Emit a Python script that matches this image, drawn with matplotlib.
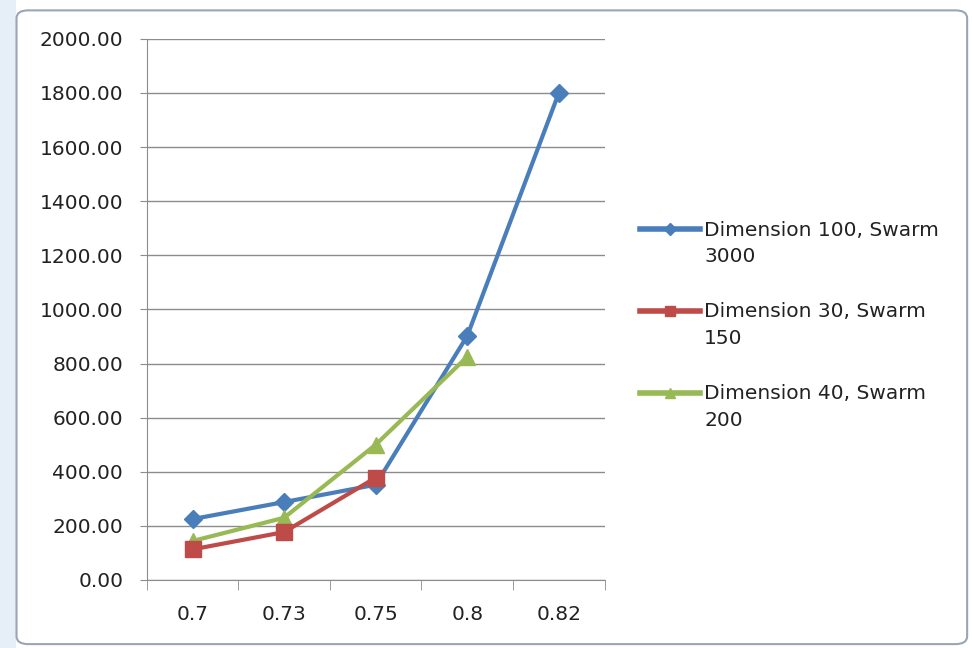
import matplotlib.pyplot as plt
import numpy as np
from matplotlib.patches import FancyBboxPatch, Rectangle
from matplotlib.ticker import FixedLocator, FuncFormatter
from matplotlib.legend_handler import HandlerLine2D

# convergence values per alpha setting
categories = ["0.7", "0.73", "0.75", "0.8", "0.82"]
dim100 = [225, 288, 352, 902, 1800]
dim30 = [113, 177, 378]
dim40 = [144, 230, 500, 825]
labels = ["Dimension 100, Swarm\n3000", "Dimension 30, Swarm\n150", "Dimension 40, Swarm\n200"]

plt.rcParams["font.family"] = ["DejaVu Sans"]
FS = 14.5


class TopLineHandler(HandlerLine2D):
    # put the legend key next to the first line of a wrapped label
    def create_artists(self, legend, orig_handle, xdescent, ydescent,
                       width, height, fontsize, trans):
        shift = 1.45 * fontsize
        return super().create_artists(legend, orig_handle, xdescent,
                                      ydescent - shift, width, height,
                                      fontsize, trans)


fig = plt.figure(figsize=(9.72, 6.48), dpi=100)
fig.patch.set_facecolor("white")

# excel window strip on the left and chart frame
fig.add_artist(Rectangle((0, 0), 0.016, 1, transform=fig.transFigure,
                         facecolor="#e6eef8", edgecolor="none", zorder=-3))
fig.add_artist(FancyBboxPatch((0.017, 0.006), 0.978, 0.978,
                              boxstyle="round,pad=0,rounding_size=0.012",
                              transform=fig.transFigure, facecolor="white",
                              edgecolor="#9aa6b4", linewidth=1.5, zorder=-2))

ax = fig.add_axes([0.151, 0.105, 0.471, 0.835])
ax.set_facecolor("none")

x = np.arange(len(categories))
ax.plot(x[:len(dim100)], dim100, color="#4a7ebb", lw=3, marker="D", ms=9,
        label=labels[0], zorder=3)
ax.plot(x[:len(dim30)], dim30, color="#be4b48", lw=3, marker="s", ms=11,
        label=labels[1], zorder=4)
ax.plot(x[:len(dim40)], dim40, color="#98b954", lw=3, marker="^", ms=11,
        label=labels[2], zorder=3)

ax.set_xlim(-0.5, len(categories) - 0.5)
ax.set_ylim(0, 2000)
ax.set_yticks(np.arange(0, 2001, 200))
ax.yaxis.set_major_formatter(FuncFormatter(lambda v, p: f"{v:.2f}"))
ax.yaxis.grid(True, color="#8c8c8c", lw=1)
ax.set_axisbelow(True)

ax.set_xticks(x)
ax.set_xticklabels(categories)
ax.xaxis.set_minor_locator(FixedLocator(np.arange(-0.5, len(categories), 1)))
ax.tick_params(axis="x", which="major", length=0, pad=18, labelsize=FS, colors="#222222")
ax.tick_params(axis="x", which="minor", length=7, color="#8c8c8c", direction="out")
ax.tick_params(axis="y", length=5, color="#8c8c8c", pad=12, labelsize=FS, labelcolor="#222222")

for side in ["top", "right"]:
    ax.spines[side].set_visible(False)
for side in ["left", "bottom"]:
    ax.spines[side].set_color("#8c8c8c")

leg = ax.legend(loc="center left", bbox_to_anchor=(1.037, 0.471), frameon=False,
                fontsize=FS, handlelength=3.0, labelspacing=1.8, handletextpad=0.2,
                markerscale=0.7, handler_map={plt.Line2D: TopLineHandler()})
for t in leg.get_texts():
    t.set_linespacing(1.5)
    t.set_color("#222222")
for h in leg.legend_handles:
    h.set_linewidth(4)

plt.savefig("out.png", dpi=100)
